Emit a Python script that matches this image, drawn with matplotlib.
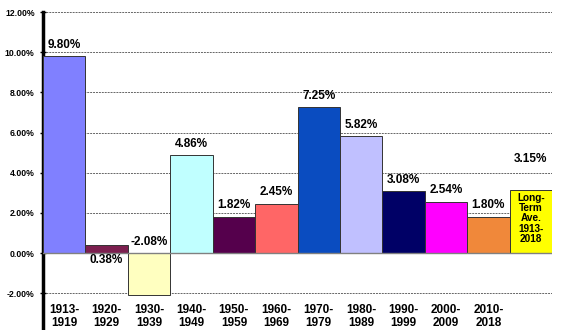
import numpy as np
import matplotlib
matplotlib.use("Agg")
import matplotlib.pyplot as plt

# decade returns, last bar is the long-term average
periods = ["1913-\n1919", "1920-\n1929", "1930-\n1939", "1940-\n1949", "1950-\n1959",
           "1960-\n1969", "1970-\n1979", "1980-\n1989", "1990-\n1999", "2000-\n2009",
           "2010-\n2018", ""]
values = [9.80, 0.38, -2.08, 4.86, 1.82, 2.45, 7.25, 5.82, 3.08, 2.54, 1.80, 3.15]
bar_colors = ["#8080ff", "#7c1f4f", "#ffffc0", "#c0ffff", "#55004c", "#ff6666",
              "#0a4cc0", "#c0c0ff", "#000066", "#ff00ff", "#f0883a", "#ffff00"]
yticks = [-2, 0, 2, 4, 6, 8, 10, 12]
avg_text = "Long-\nTerm\nAve.\n1913-\n2018"

plt.rcParams['font.family'] = ['Liberation Sans', 'DejaVu Sans']

fig = plt.figure(figsize=(5.76, 3.30), dpi=100)
ax = fig.add_axes([43 / 576, 0.0, 509 / 576, 1 - 12 / 330])

x = np.arange(len(values))
ax.bar(x, values, width=1.0, color=bar_colors, edgecolor="#333333", linewidth=0.7, zorder=3)

ax.set_xlim(-0.5, len(values) - 0.5)
ax.set_ylim(-3.83, 12)

# dashed gridlines, solid zero line
for t in yticks:
    if t == 0:
        ax.axhline(0, color="#808080", lw=1.0, zorder=4)
    else:
        ax.axhline(t, color="#666666", lw=0.7, ls=(0, (2, 1)), zorder=1)

ax.set_yticks(yticks)
ax.set_yticklabels(["%.2f%%" % t for t in yticks], fontsize=6.2, fontweight="bold")
ax.tick_params(axis="y", direction="inout", length=4, width=1, pad=4)
ax.set_xticks([])
for s in ["top", "right", "bottom"]:
    ax.spines[s].set_visible(False)
ax.spines["left"].set_linewidth(2.5)

# value labels
for i, v in enumerate(values):
    lab = "%.2f%%" % v
    if i == len(values) - 1:
        ax.annotate(lab, (i, v), xytext=(0, 18), textcoords="offset points",
                    ha="center", va="bottom", fontsize=8.5, fontweight="bold")
        ax.annotate(avg_text, (i, v), xytext=(0, -2), textcoords="offset points",
                    ha="center", va="top", fontsize=7.2, fontweight="bold",
                    linespacing=1.05, zorder=5)
    elif v < 0:
        ax.annotate(lab, (i, 0), xytext=(0, 4), textcoords="offset points",
                    ha="center", va="bottom", fontsize=8.5, fontweight="bold", zorder=5)
    elif v < 1:
        ax.annotate(lab, (i, 0), xytext=(0, -1), textcoords="offset points",
                    ha="center", va="top", fontsize=8.5, fontweight="bold", zorder=5)
    else:
        ax.annotate(lab, (i, v), xytext=(0, 4), textcoords="offset points",
                    ha="center", va="bottom", fontsize=8.5, fontweight="bold", zorder=5)

# period labels under the bars
for i, p in enumerate(periods):
    ax.text(i, -3.16, p, ha="center", va="center", fontsize=8.5, fontweight="bold",
            linespacing=1.1)

fig.savefig("out.png", dpi=100)
